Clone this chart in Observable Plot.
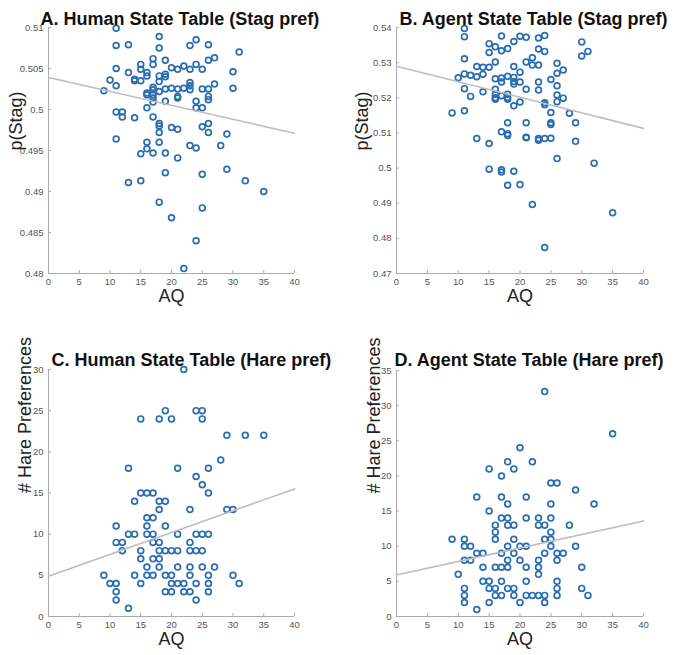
<!DOCTYPE html>
<html>
<head>
<meta charset="utf-8">
<script src="https://cdn.jsdelivr.net/npm/d3@7"></script>
<script src="https://cdn.jsdelivr.net/npm/@observablehq/plot@0.6"></script>
<style>
  html, body { margin: 0; padding: 0; background: #fff; }
  #fig { position: relative; width: 675px; height: 655px; overflow: hidden; }
  .panel { position: absolute; }
</style>
</head>
<body>
<div id="fig"></div>
<script>
// ---- Data ----
const xTicks = [0, 5, 10, 15, 20, 25, 30, 35, 40];
const fitX = [0, 40];

// Panel A: Human State Table (Stag pref)
const aqA = [11,11,13,18,18,24,23,26,31,27,26,17,17,15,15,19,11,13,20,21,22,23,24,25,30,16,16,14,14,15,18,19,19,18,10,11,9,23,23,27,30,17,17,19,20,21,22,23,25,26,16,16,17,17,18,21,21,26,26,19,17,24,24,25,16,11,12,12,14,17,18,18,18,20,21,25,26,26,29,11,16,16,18,23,24,28,15,17,19,21,19,25,29,13,15,32,35,18,25,20,24,22];
const stagA = [0.5099,0.5078,0.5079,0.5089,0.5075,0.5085,0.5078,0.5079,0.5070,0.5063,0.5060,0.5062,0.5055,0.5055,0.5049,0.5060,0.5050,0.5045,0.5051,0.5049,0.5053,0.5049,0.5055,0.5049,0.5046,0.5045,0.5041,0.5037,0.5035,0.5035,0.5041,0.5043,0.5040,0.5034,0.5036,0.5029,0.5023,0.5033,0.5029,0.5031,0.5026,0.5027,0.5024,0.5025,0.5026,0.5025,0.5026,0.5024,0.5025,0.5025,0.5020,0.5018,0.5018,0.5014,0.5022,0.5016,0.5014,0.5016,0.5012,0.5010,0.5009,0.5010,0.5002,0.5002,0.5002,0.4997,0.4997,0.4991,0.4990,0.4991,0.4983,0.4980,0.4972,0.4978,0.4976,0.4979,0.4983,0.4972,0.4970,0.4964,0.4960,0.4952,0.4960,0.4956,0.4953,0.4956,0.4946,0.4947,0.4947,0.4941,0.4923,0.4921,0.4927,0.4911,0.4913,0.4913,0.4900,0.4887,0.4880,0.4868,0.4840,0.4806];
const fitA = [0.5039, 0.4971];
const yTicksA = [0.48, 0.485, 0.49, 0.495, 0.5, 0.505, 0.51];

// Panel B: Agent State Table (Stag pref)
const aqB = [11,11,17,20,21,23,24,19,15,16,17,18,15,23,24,30,31,30,11,16,22,21,22,23,26,13,14,15,19,20,27,26,11,12,13,14,10,16,17,17,18,19,19,19,20,23,25,26,11,16,21,23,14,16,16,16,18,17,18,18,12,26,27,26,20,24,24,19,11,9,25,28,18,21,25,25,29,17,18,18,21,21,23,23,24,25,13,15,29,26,32,15,17,17,19,18,20,22,35,24];
const stagB = [0.5397,0.5374,0.5376,0.5375,0.5372,0.5370,0.5377,0.5360,0.5354,0.5345,0.5334,0.5340,0.5329,0.5339,0.5332,0.5359,0.5332,0.5319,0.5311,0.5302,0.5314,0.5302,0.5293,0.5293,0.5298,0.5289,0.5287,0.5287,0.5289,0.5273,0.5279,0.5270,0.5268,0.5264,0.5260,0.5267,0.5257,0.5254,0.5256,0.5245,0.5261,0.5258,0.5246,0.5239,0.5245,0.5245,0.5252,0.5234,0.5226,0.5224,0.5224,0.5222,0.5217,0.5210,0.5200,0.5196,0.5210,0.5206,0.5201,0.5196,0.5204,0.5208,0.5199,0.5189,0.5188,0.5186,0.5180,0.5177,0.5163,0.5157,0.5158,0.5156,0.5129,0.5129,0.5129,0.5124,0.5129,0.5103,0.5098,0.5093,0.5088,0.5086,0.5084,0.5079,0.5084,0.5085,0.5084,0.5070,0.5076,0.5027,0.5014,0.4997,0.4995,0.4989,0.4991,0.4951,0.4953,0.4896,0.4873,0.4774];
const fitB = [0.5290, 0.5113];
const yTicksB = [0.47, 0.48, 0.49, 0.5, 0.51, 0.52, 0.53, 0.54];

// Panel C: Human State Table (Hare pref)
const aqC = [22, 19,24,25, 15,18,20,25, 29,32,35, 28, 13,21,26, 24, 25, 15,16,17,26, 14,18,19, 18,23,29,30, 16,17, 11,16,19, 13,14,16,17,21,24,25,26, 11,12,17,18,23, 12,15,18,19,20,21,23,24,25, 15,17,18, 16,18,21,23,25,27, 9,14,16,17,19,20,23,26,30, 10,11,15,20,21,22,24,26,31, 11,19,20,22,23,26, 11,24, 13];
const hareC = [30, 25,25,25, 24,24,24,24, 22,22,22, 19, 18,18,18, 17, 16, 15,15,15,15, 14,14,14, 13,13,13,13, 12,12, 11,11,11, 10,10,10,10,10,10,10,10, 9,9,9,9,9, 8,8,8,8,8,8,8,8,8, 7,7,7, 6,6,6,6,6,6, 5,5,5,5,5,5,5,5,5, 4,4,4,4,4,4,4,4,4, 3,3,3,3,3,3, 2,2, 1];
const fitC = [4.9, 15.5];
const yTicksC = [0, 5, 10, 15, 20, 25, 30];

// Panel D: Agent State Table (Hare pref)
const aqD = [24, 35, 20, 18,22, 15,19, 17, 25,26, 29, 13,17,21, 18,25,32, 15, 17,18,21,23,25, 16,18,19,23,24,28, 16,25, 9,11,16,19,24,25, 11,12,18,20,21,25,29, 13,14,17,19,24,26,27, 11,12,18,20,23,26, 14,16,17,18,21,23,30, 10,23, 14,15,17,21,26, 11,15,16,18,19,26,30, 11,16,17,19,21,22,23,24,26,31, 11,15,20,24, 13];
const hareD = [32, 26, 24, 22,22, 21,21, 20, 19,19, 18, 17,17,17, 16,16,16, 15, 14,14,14,14,14, 13,13,13,13,13,13, 12,12, 11,11,11,11,11,11, 10,10,10,10,10,10,10, 9,9,9,9,9,9,9, 8,8,8,8,8,8, 7,7,7,7,7,7,7, 6,6, 5,5,5,5,5, 4,4,4,4,4,4,4, 3,3,3,3,3,3,3,3,3,3, 2,2,2,2, 1];
const fitD = [5.9, 13.6];
const yTicksD = [0, 5, 10, 15, 20, 25, 30, 35];

// ---- Drawing ----
const FONT = "'Liberation Sans', Arial, Helvetica, sans-serif";
const DOT = "#2a6db3";
const fmt = d => String(+(+d).toFixed(4));

function panel(o) {
  const pts = o.aq.map((a, i) => ({aq: a, v: o.val[i]}));
  const fit = fitX.map((x, i) => ({aq: x, v: o.fit[i]}));
  return Plot.plot({
    width: o.width, height: o.height,
    marginLeft: o.ml, marginRight: o.mr, marginTop: o.mt, marginBottom: o.mb,
    style: {fontFamily: FONT, fontSize: "9.5px", color: "#555", background: "#fff"},
    x: {domain: [0, 40]},
    y: {domain: [o.yTicks[0], o.yTicks[o.yTicks.length - 1]]},
    marks: [
      Plot.ruleX([0], {stroke: "#aaa", strokeWidth: 1}),
      Plot.ruleY([o.yTicks[0]], {stroke: "#aaa", strokeWidth: 1}),
      Plot.axisX({ticks: xTicks, tickFormat: fmt, tickSize: -3, tickPadding: 8, label: null, stroke: "#aaa", fill: "#555"}),
      Plot.axisY({ticks: o.yTicks, tickFormat: fmt, tickSize: -3, tickPadding: 8, label: null, stroke: "#aaa", fill: "#555"}),
      Plot.dot(pts, {x: "aq", y: "v", r: 2.9, stroke: DOT, strokeWidth: 1.7, fill: "none"}),
      Plot.line(fit, {x: "aq", y: "v", stroke: "#bdbdbd", strokeWidth: 1.6}),
      Plot.text([o.title], {frameAnchor: "top-left", textAnchor: "start", dx: o.tdx, dy: o.tdy, fontSize: 18, fontWeight: "bold", fill: "#111"}),
      Plot.text([o.ylabel], {frameAnchor: "left", dx: o.ydx, rotate: -90, fontSize: 18, fill: "#222"}),
      Plot.text(["AQ"], {frameAnchor: "bottom", dy: 28, fontSize: 18, fill: "#222"})
    ]
  });
}

const fig = document.getElementById("fig");
function place(svg, left, top) {
  const d = document.createElement("div");
  d.className = "panel";
  d.style.left = left + "px";
  d.style.top = top + "px";
  d.appendChild(svg);
  fig.appendChild(d);
}

place(panel({aq: aqA, val: stagA, fit: fitA, yTicks: yTicksA, title: "A. Human State Table (Stag pref)", ylabel: "p(Stag)",
  width: 337, height: 318, ml: 48, mr: 43, mt: 27, mb: 45, tdx: -8, tdy: -15, ydx: -32}), 0, 0);
place(panel({aq: aqB, val: stagB, fit: fitB, yTicks: yTicksB, title: "B. Agent State Table (Stag pref)", ylabel: "p(Stag)",
  width: 338, height: 318, ml: 59, mr: 32, mt: 27, mb: 45, tdx: 3, tdy: -15, ydx: -34}), 337, 0);
place(panel({aq: aqC, val: hareC, fit: fitC, yTicks: yTicksC, title: "C. Human State Table (Hare pref)", ylabel: "# Hare Preferences",
  width: 337, height: 337, ml: 48, mr: 43, mt: 51, mb: 39, tdx: 3, tdy: -16, ydx: -23}), 0, 318);
place(panel({aq: aqD, val: hareD, fit: fitD, yTicks: yTicksD, title: "D. Agent State Table (Hare pref)", ylabel: "# Hare Preferences",
  width: 338, height: 337, ml: 59, mr: 32, mt: 52, mb: 39, tdx: -2, tdy: -17, ydx: -22}), 337, 318);
</script>
</body>
</html>
